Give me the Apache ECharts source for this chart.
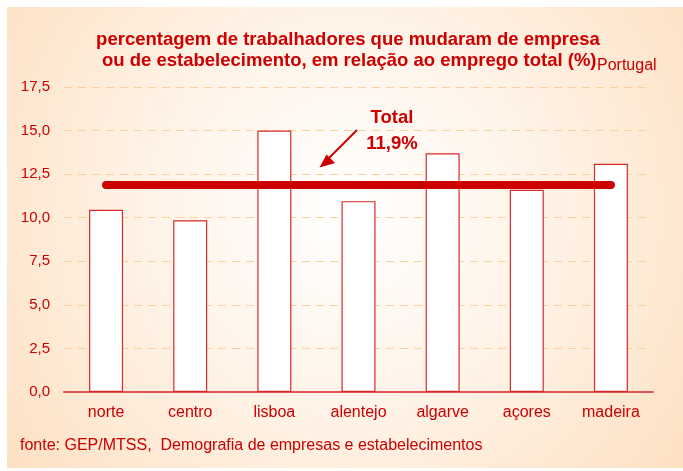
<!DOCTYPE html>
<html>
<head>
<meta charset="utf-8">
<script src="https://cdn.jsdelivr.net/npm/echarts@6/dist/echarts.min.js"></script>
<style>
    html, body { margin: 0; padding: 0; background: #fff; }
    #chart { width: 683px; height: 471px; }
</style>
</head>
<body>
<div id="chart"></div>
<script>
// regioes e valores (%)
var regioes = ['norte', 'centro', 'lisboa', 'alentejo', 'algarve', 'açores', 'madeira'];
var valores = [10.45, 9.85, 15.0, 10.95, 13.7, 11.6, 13.1];
var total = 11.9;
var yTicks = [0, 2.5, 5, 7.5, 10, 12.5, 15, 17.5];

var RED = '#cc0000';
var FONT = 'Liberation Sans, Arial, sans-serif';

function txt(x, y, s, font, align) {
    return {
        type: 'text', silent: true, x: x, y: y,
        style: {
            text: s, fill: RED, font: font,
            textAlign: align || 'left', textVerticalAlign: 'middle'
        }
    };
}

(function() {
    var myChart = echarts.init(document.getElementById('chart'), null, { renderer: 'canvas' });

    var option = {
        backgroundColor: '#ffffff',
        animation: false,
        textStyle: { fontFamily: FONT },
        grid: { left: 64, right: 30, top: 87, bottom: 79 },
        xAxis: {
            type: 'category',
            data: regioes,
            axisLine: { lineStyle: { color: '#e05555', width: 2 } },
            axisTick: { show: false },
            axisLabel: { color: RED, fontSize: 16, margin: 13, fontFamily: FONT }
        },
        yAxis: {
            type: 'value',
            min: yTicks[0],
            max: yTicks[yTicks.length - 1],
            interval: 2.5,
            axisLine: { show: false },
            axisTick: { show: false },
            axisLabel: {
                color: RED, fontSize: 15, margin: 14, fontFamily: FONT,
                formatter: function(v) { return v.toFixed(1).replace('.', ','); }
            },
            splitLine: { lineStyle: { color: '#fccf9c', type: [8, 6], width: 1 } }
        },
        series: [{
            type: 'bar',
            data: valores,
            barWidth: 34,
            itemStyle: { color: '#ffffff', borderColor: '#d82a2a', borderWidth: 1.2 },
            markLine: {
                silent: true,
                symbol: 'none',
                label: { show: false },
                lineStyle: { color: RED, width: 8, type: 'solid', cap: 'round' },
                data: [[
                    { coord: [regioes[0], total] },
                    { coord: [regioes[regioes.length - 1], total] }
                ]]
            }
        }],
        graphic: [
            {
                type: 'rect', z: -10, silent: true,
                shape: { x: 7, y: 7, width: 676, height: 461 },
                style: {
                    fill: {
                        type: 'radial', x: 0.5, y: 0.45, r: 0.95,
                        colorStops: [
                            { offset: 0, color: '#ffffff' },
                            { offset: 0.45, color: '#fff3e7' },
                            { offset: 1, color: '#fddfc0' }
                        ]
                    }
                }
            },
            txt(348, 40, 'percentagem de trabalhadores que mudaram de empresa', 'bold 18.5px ' + FONT, 'center'),
            txt(102, 61, 'ou de estabelecimento, em relação ao emprego total (%)', 'bold 18.5px ' + FONT),
            txt(597, 66, 'Portugal', '16px ' + FONT),
            txt(392, 118, 'Total', 'bold 18.5px ' + FONT, 'center'),
            txt(392, 144, '11,9%', 'bold 18.5px ' + FONT, 'center'),
            {
                type: 'line', silent: true,
                shape: { x1: 357, y1: 130, x2: 329, y2: 158 },
                style: { stroke: RED, lineWidth: 2 }
            },
            {
                type: 'polygon', silent: true,
                shape: { points: [[319.5, 167.5], [326.5, 154.5], [335, 163]] },
                style: { fill: RED }
            },
            txt(20, 446, 'fonte: GEP/MTSS,  Demografia de empresas e estabelecimentos', '16px ' + FONT)
        ]
    };

    myChart.setOption(option);
})();
</script>
</body>
</html>
